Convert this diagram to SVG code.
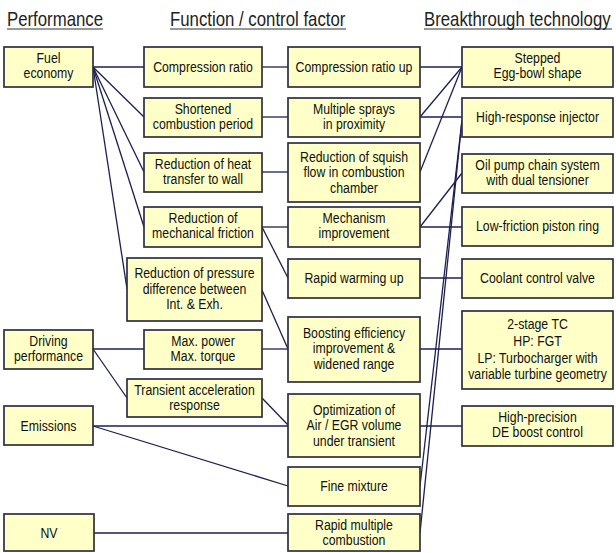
<svg xmlns="http://www.w3.org/2000/svg" width="616" height="553" viewBox="0 0 616 553">
<style>
.b{fill:#ffffc8;stroke:#2e2e40;stroke-width:1.7}
.t{font-family:"Liberation Sans",Arial,sans-serif;font-size:15px;fill:#111;text-anchor:middle}
.h{font-family:"Liberation Sans",Arial,sans-serif;font-size:20px;fill:#222}
.u{stroke:#333;stroke-width:1.2}
.c{stroke:#1c1f50;stroke-width:1.3;fill:none}
</style>
<rect width="616" height="553" fill="#fff"/>
<g id="headers">
<text class="h" transform="translate(7 0) scale(.84 1)" x="0" y="26">Performance</text>
<line class="u" x1="7" y1="29" x2="103" y2="29"/>
<text class="h" transform="translate(170 0) scale(.84 1)" x="0" y="26">Function / control factor</text>
<line class="u" x1="170" y1="29" x2="346" y2="29"/>
<text class="h" transform="translate(424 0) scale(.84 1)" x="0" y="26">Breakthrough technology</text>
<line class="u" x1="424" y1="29" x2="612" y2="29"/>
</g>
<g id="connectors">
<line class="c" x1="93" y1="67" x2="144" y2="67"/>
<line class="c" x1="93" y1="67" x2="144" y2="117"/>
<line class="c" x1="93" y1="67" x2="144" y2="172"/>
<line class="c" x1="93" y1="67" x2="144" y2="227"/>
<line class="c" x1="93" y1="67" x2="127" y2="289"/>
<line class="c" x1="93" y1="349" x2="144" y2="349"/>
<line class="c" x1="93" y1="349" x2="127" y2="398"/>
<line class="c" x1="93" y1="426" x2="288" y2="426"/>
<line class="c" x1="93" y1="426" x2="288" y2="486"/>
<line class="c" x1="93" y1="533" x2="288" y2="533"/>
<line class="c" x1="262" y1="67" x2="288" y2="67"/>
<line class="c" x1="262" y1="117" x2="288" y2="117"/>
<line class="c" x1="262" y1="172" x2="288" y2="172"/>
<line class="c" x1="262" y1="227" x2="288" y2="227"/>
<line class="c" x1="262" y1="227" x2="288" y2="278"/>
<line class="c" x1="262" y1="290" x2="288" y2="349"/>
<line class="c" x1="262" y1="349" x2="288" y2="349"/>
<line class="c" x1="262" y1="398" x2="288" y2="425"/>
<line class="c" x1="420" y1="67" x2="462" y2="67"/>
<line class="c" x1="420" y1="117" x2="462" y2="67"/>
<line class="c" x1="420" y1="117" x2="462" y2="117"/>
<line class="c" x1="420" y1="172" x2="462" y2="67"/>
<line class="c" x1="420" y1="227" x2="462" y2="173"/>
<line class="c" x1="420" y1="227" x2="462" y2="227"/>
<line class="c" x1="420" y1="278" x2="462" y2="278"/>
<line class="c" x1="420" y1="349" x2="462" y2="349"/>
<line class="c" x1="420" y1="426" x2="462" y2="426"/>
<line class="c" x1="462" y1="120" x2="420" y2="486"/>
<line class="c" x1="462" y1="120" x2="420" y2="533"/>
</g>
<g id="n_fuel"><rect class="b" x="4" y="47" width="89" height="40"/><g transform="translate(48.5 0) scale(.82 1)"><text class="t" x="0" y="63">Fuel</text><text class="t" x="0" y="78.5">economy</text></g></g>
<g id="n_driving"><rect class="b" x="4" y="330" width="89" height="39"/><g transform="translate(48.5 0) scale(.82 1)"><text class="t" x="0" y="346">Driving</text><text class="t" x="0" y="361.5">performance</text></g></g>
<g id="n_emissions"><rect class="b" x="4" y="406" width="89" height="39"/><g transform="translate(48.5 0) scale(.82 1)"><text class="t" x="0" y="431">Emissions</text></g></g>
<g id="n_nv"><rect class="b" x="4" y="514" width="90" height="37"/><g transform="translate(49 0) scale(.82 1)"><text class="t" x="0" y="538">NV</text></g></g>
<g id="n_cr"><rect class="b" x="144" y="47" width="118" height="40"/><g transform="translate(203 0) scale(.82 1)"><text class="t" x="0" y="72">Compression ratio</text></g></g>
<g id="n_short"><rect class="b" x="144" y="98" width="118" height="39"/><g transform="translate(203 0) scale(.82 1)"><text class="t" x="0" y="114">Shortened</text><text class="t" x="0" y="129.5">combustion period</text></g></g>
<g id="n_heat"><rect class="b" x="144" y="153" width="118" height="39"/><g transform="translate(203 0) scale(.82 1)"><text class="t" x="0" y="169">Reduction of heat</text><text class="t" x="0" y="184.5">transfer to wall</text></g></g>
<g id="n_mech"><rect class="b" x="144" y="207" width="118" height="40"/><g transform="translate(203 0) scale(.82 1)"><text class="t" x="0" y="223">Reduction of</text><text class="t" x="0" y="238.5">mechanical friction</text></g></g>
<g id="n_press"><rect class="b" x="127" y="258" width="135" height="63"/><g transform="translate(194.5 0) scale(.82 1)"><text class="t" x="0" y="278.5">Reduction of pressure</text><text class="t" x="0" y="294">difference between</text><text class="t" x="0" y="309.5">Int. &amp; Exh.</text></g></g>
<g id="n_maxp"><rect class="b" x="144" y="330" width="118" height="39"/><g transform="translate(203 0) scale(.82 1)"><text class="t" x="0" y="346">Max. power</text><text class="t" x="0" y="361.5">Max. torque</text></g></g>
<g id="n_trans"><rect class="b" x="127" y="379" width="135" height="38"/><g transform="translate(194.5 0) scale(.82 1)"><text class="t" x="0" y="395">Transient acceleration</text><text class="t" x="0" y="410.5">response</text></g></g>
<g id="n_crup"><rect class="b" x="288" y="47" width="132" height="40"/><g transform="translate(354 0) scale(.82 1)"><text class="t" x="0" y="72">Compression ratio up</text></g></g>
<g id="n_sprays"><rect class="b" x="288" y="98" width="132" height="39"/><g transform="translate(354 0) scale(.82 1)"><text class="t" x="0" y="114">Multiple sprays</text><text class="t" x="0" y="129.5">in proximity</text></g></g>
<g id="n_squish"><rect class="b" x="288" y="143" width="132" height="59"/><g transform="translate(354 0) scale(.82 1)"><text class="t" x="0" y="162">Reduction of squish</text><text class="t" x="0" y="177.5">flow in combustion</text><text class="t" x="0" y="193">chamber</text></g></g>
<g id="n_mechimp"><rect class="b" x="288" y="207" width="132" height="40"/><g transform="translate(354 0) scale(.82 1)"><text class="t" x="0" y="223">Mechanism</text><text class="t" x="0" y="238.5">improvement</text></g></g>
<g id="n_warm"><rect class="b" x="288" y="259" width="132" height="39"/><g transform="translate(354 0) scale(.82 1)"><text class="t" x="0" y="283.5">Rapid warming up</text></g></g>
<g id="n_boost"><rect class="b" x="288" y="317" width="132" height="65"/><g transform="translate(354 0) scale(.82 1)"><text class="t" x="0" y="338">Boosting efficiency</text><text class="t" x="0" y="353.5">improvement &amp;</text><text class="t" x="0" y="369">widened range</text></g></g>
<g id="n_opt"><rect class="b" x="288" y="394" width="132" height="63"/><g transform="translate(354 0) scale(.82 1)"><text class="t" x="0" y="415">Optimization of</text><text class="t" x="0" y="430.5">Air / EGR volume</text><text class="t" x="0" y="446">under transient</text></g></g>
<g id="n_fine"><rect class="b" x="288" y="467" width="132" height="39"/><g transform="translate(354 0) scale(.82 1)"><text class="t" x="0" y="491.5">Fine mixture</text></g></g>
<g id="n_rapid"><rect class="b" x="288" y="514" width="132" height="37"/><g transform="translate(354 0) scale(.82 1)"><text class="t" x="0" y="530">Rapid multiple</text><text class="t" x="0" y="545.5">combustion</text></g></g>
<g id="n_egg"><rect class="b" x="462" y="47" width="151" height="40"/><g transform="translate(537.5 0) scale(.82 1)"><text class="t" x="0" y="63">Stepped</text><text class="t" x="0" y="78.5">Egg-bowl shape</text></g></g>
<g id="n_inj"><rect class="b" x="462" y="98" width="151" height="39"/><g transform="translate(537.5 0) scale(.82 1)"><text class="t" x="0" y="122.5">High-response injector</text></g></g>
<g id="n_oil"><rect class="b" x="462" y="154" width="151" height="39"/><g transform="translate(537.5 0) scale(.82 1)"><text class="t" x="0" y="170">Oil pump chain system</text><text class="t" x="0" y="185.5">with dual tensioner</text></g></g>
<g id="n_ring"><rect class="b" x="462" y="207" width="151" height="39"/><g transform="translate(537.5 0) scale(.82 1)"><text class="t" x="0" y="231.5">Low-friction piston ring</text></g></g>
<g id="n_cool"><rect class="b" x="462" y="259" width="151" height="39"/><g transform="translate(537.5 0) scale(.82 1)"><text class="t" x="0" y="283.5">Coolant control valve</text></g></g>
<g id="n_tc"><rect class="b" x="462" y="311" width="151" height="78"/><g transform="translate(537.5 0) scale(.82 1)"><text class="t" x="0" y="329">2-stage TC</text><text class="t" x="0" y="346">HP: FGT</text><text class="t" x="0" y="363">LP: Turbocharger with</text><text class="t" x="0" y="379">variable turbine geometry</text></g></g>
<g id="n_prec"><rect class="b" x="462" y="406" width="151" height="40"/><g transform="translate(537.5 0) scale(.82 1)"><text class="t" x="0" y="422">High-precision</text><text class="t" x="0" y="437.5">DE boost control</text></g></g>
</svg>
